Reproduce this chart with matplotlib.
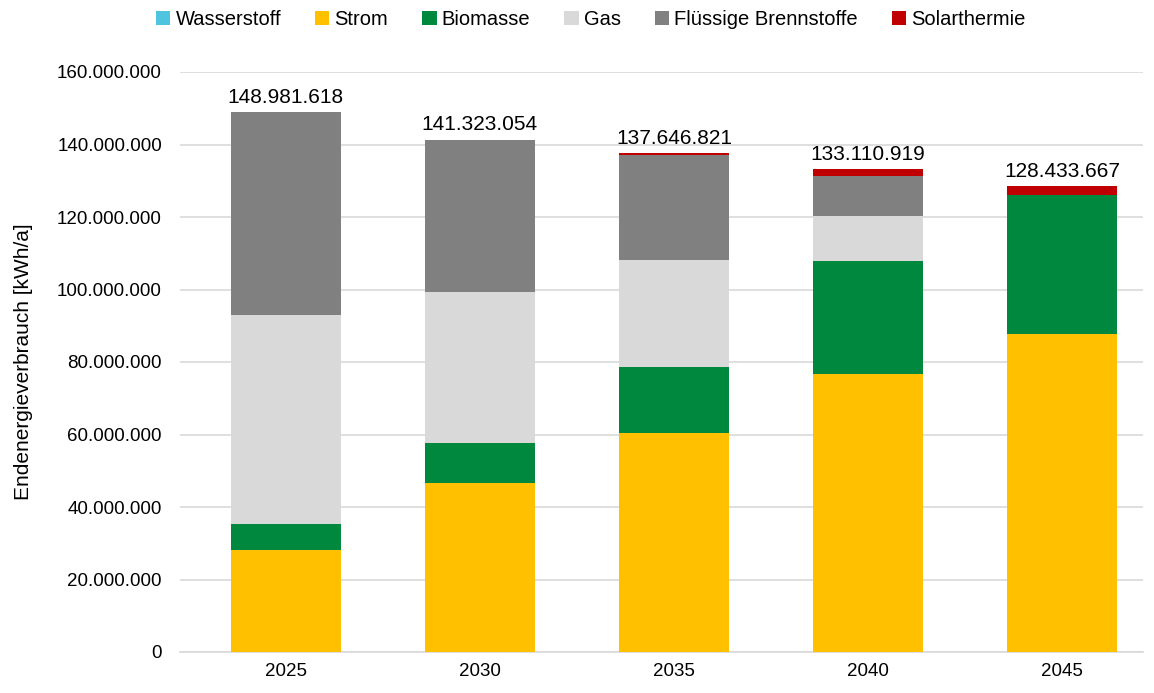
import matplotlib.pyplot as plt
import numpy as np

plt.rcParams['font.family'] = ['Liberation Sans', 'DejaVu Sans']

years = ['2025', '2030', '2035', '2040', '2045']

# Endenergieverbrauch je Energieträger in kWh/a
wasserstoff = [0, 0, 0, 0, 0]
strom = [28_100_000, 46_700_000, 60_400_000, 76_700_000, 87_700_000]
biomasse = [7_200_000, 11_000_000, 18_200_000, 31_100_000, 38_300_000]
gas = [57_700_000, 41_700_000, 29_600_000, 12_400_000, 0]
fluessig = [55_981_618, 41_923_054, 28_900_000, 11_000_000, 0]
solarthermie = [0, 0, 546_821, 1_910_919, 2_433_667]

series = [
    ('Wasserstoff', wasserstoff, '#4EC4DE'),
    ('Strom', strom, '#FFC000'),
    ('Biomasse', biomasse, '#00893E'),
    ('Gas', gas, '#D9D9D9'),
    ('Flüssige Brennstoffe', fluessig, '#808080'),
    ('Solarthermie', solarthermie, '#C00000'),
]


def fmt(v):
    return f'{int(round(v)):,}'.replace(',', '.')


fig = plt.figure(figsize=(11.54, 6.93), dpi=100)
ax = fig.add_axes([180 / 1154, 1 - 652 / 693, (1143 - 180) / 1154, (652 - 72) / 693])

x = np.arange(len(years))
bottom = np.zeros(len(years))
for name, vals, color in series:
    vals = np.array(vals, dtype=float)
    ax.bar(x, vals, width=0.57, bottom=bottom, color=color, label=name, zorder=3)
    bottom += vals

for xi, total in zip(x, bottom):
    ax.text(xi, total + 1_500_000, fmt(total), ha='center', va='bottom',
            fontsize=15, color='#000000')

ax.set_ylim(0, 160_000_000)
ax.set_xlim(-0.546, 4.418)
ax.set_yticks(np.arange(0, 160_000_001, 20_000_000))
ax.set_yticklabels([fmt(v) for v in np.arange(0, 160_000_001, 20_000_000)])
ax.set_xticks(x)
ax.set_xticklabels(years)
ax.tick_params(axis='both', length=0, labelsize=13.5, colors='#000000')
ax.tick_params(axis='y', pad=13)
ax.tick_params(axis='x', pad=8)
ax.yaxis.grid(True, color='#D9D9D9', linewidth=1.2, zorder=0)
for s in ['top', 'right', 'left']:
    ax.spines[s].set_visible(False)
ax.spines['bottom'].set_color('#D9D9D9')
ax.spines['bottom'].set_linewidth(1.2)

ax.set_ylabel('Endenergieverbrauch [kWh/a]', fontsize=15, labelpad=17)

fig.legend(loc='upper center', bbox_to_anchor=(0.512, 1.012), ncol=6, frameon=False,
           fontsize=14.5, handlelength=0.7, handleheight=0.7, handletextpad=0.25,
           columnspacing=1.7)

fig.savefig('out.png', dpi=100)
